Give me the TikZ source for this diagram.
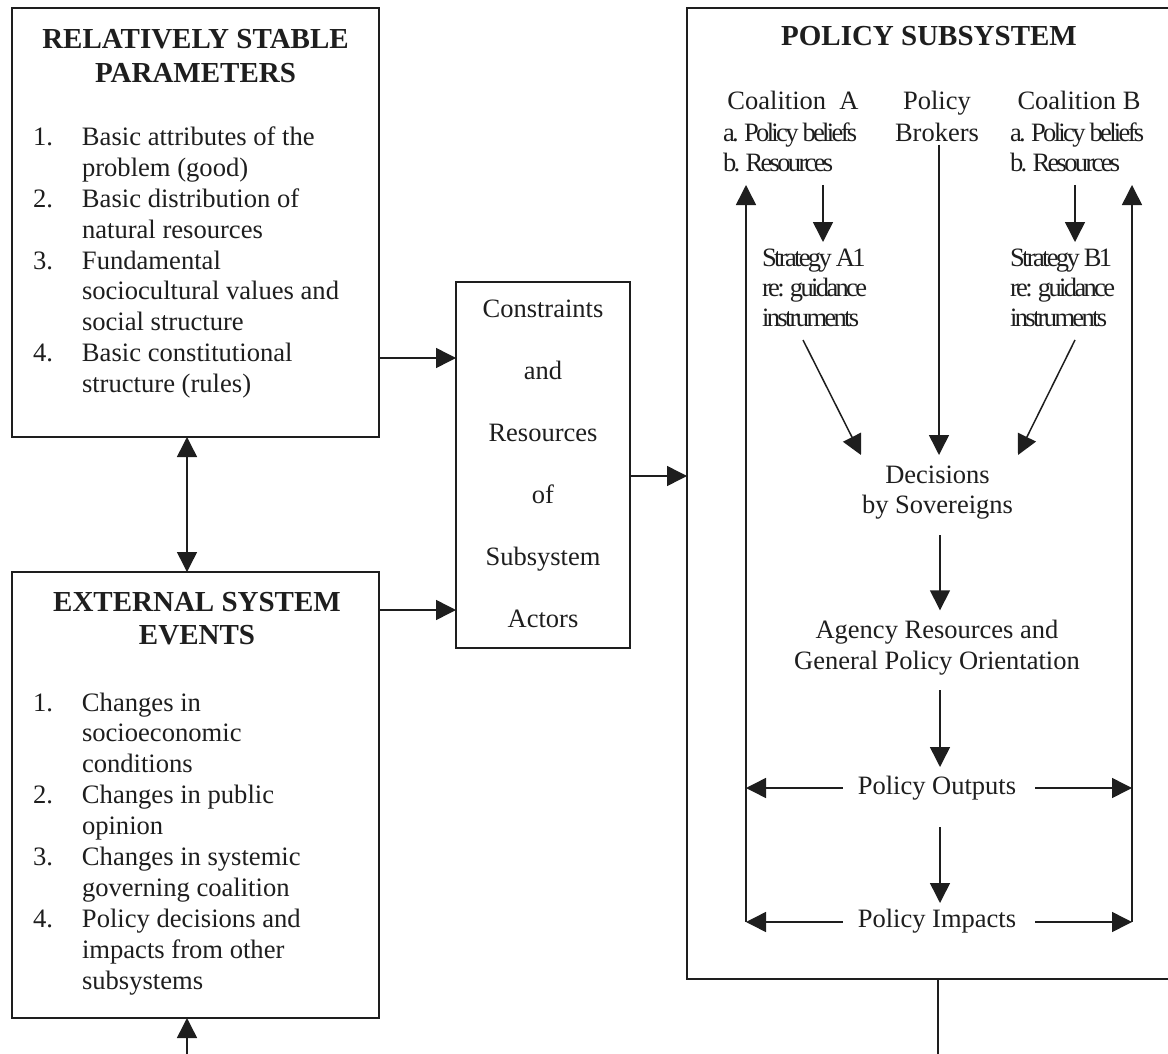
\documentclass[tikz,border=0pt]{standalone}
\usepackage{fontspec}
\setmainfont{Liberation Serif}
\newfontfamily\tightfont[LetterSpace=-10]{Liberation Serif}
\usetikzlibrary{arrows.meta,calc}
\definecolor{ink}{HTML}{1E1E1E}
% rows of text stacked at a fixed baseline distance
\newcommand{\rows}[2][c]{\begin{tabular}[t]{@{}#1@{}}#2\end{tabular}}
\begin{document}
\begin{tikzpicture}[x=1pt,y=-1pt,
  box/.style={draw=ink, line width=1.6pt, anchor=north west, inner sep=0pt, outer sep=0pt},
  txt/.style={inner sep=0pt, outer sep=0pt, text=ink, anchor=base, font={\fontsize{26.5}{30}\selectfont}},
  head/.style={txt, font={\fontsize{29}{34}\selectfont\bfseries}},
  tight/.style={txt, anchor=base west, font={\fontsize{26.5}{30}\selectfont\tightfont}},
  ln/.style={draw=ink, line width=1.5pt},
  arr/.style={ln, -{Triangle[length=20pt,width=20pt]}},
  arr2/.style={ln, {Triangle[length=20pt,width=20pt]}-{Triangle[length=20pt,width=20pt]}},
]
\useasboundingbox (0,0) rectangle (1168,1054);
\clip (0,0) rectangle (1168,1054);
\fill[white] (0,0) rectangle (1168,1054);

% ---------- frames ----------
\node[box, minimum width=367pt, minimum height=429pt] (rsp) at (12,8) {};
\node[box, minimum width=367pt, minimum height=446pt] (ese) at (12,572) {};
\node[box, minimum width=174pt, minimum height=366pt] (mid) at (456,282) {};
\node[box, line width=2.6pt, minimum width=500pt, minimum height=971pt] (pol) at (687,8) {};

% ---------- left column ----------
\node[head] (rspT) at (195.5,49) {\fontsize{29}{34}\selectfont\rows{RELATIVELY STABLE\\PARAMETERS}};
\node[txt, anchor=base west, font={\fontsize{26.6}{30.8}\selectfont}] (rspL) at (33,146) {\rows[p{49pt}@{}l]{%
  1. & Basic attributes of the\\
     & problem (good)\\
  2. & Basic distribution of\\
     & natural resources\\
  3. & Fundamental\\
     & sociocultural values and\\
     & social structure\\
  4. & Basic constitutional\\
     & structure (rules)}};

\node[head] (eseT) at (197,611) {\fontsize{29}{33}\selectfont\rows{EXTERNAL SYSTEM\\EVENTS}};
\node[txt, anchor=base west, font={\fontsize{26.6}{30.9}\selectfont}] (eseL) at (33,711) {\rows[p{49pt}@{}l]{%
  1. & Changes in\\
     & socioeconomic\\
     & conditions\\
  2. & Changes in public\\
     & opinion\\
  3. & Changes in systemic\\
     & governing coalition\\
  4. & Policy decisions and\\
     & impacts from other\\
     & subsystems}};

% ---------- middle box ----------
\node[txt, font={\fontsize{26.5}{62}\selectfont}] (midT) at (543,317) {\rows{Constraints\\and\\Resources\\of\\Subsystem\\Actors}};

% ---------- policy subsystem ----------
\node[head] (polT) at (929,46) {POLICY SUBSYSTEM};
\node[txt] (cAh) at (793,110) {Coalition\ \ A};
\node[tight] (cAi) at (723,142) {\rows[l]{a. Policy beliefs\\b. Resources}};
\node[txt, font={\fontsize{26.5}{32}\selectfont}] (brk) at (937,110) {\rows{Policy\\Brokers}};
\node[txt] (cBh) at (1079,110) {Coalition B};
\node[tight] (cBi) at (1010,142) {\rows[l]{a. Policy beliefs\\b. Resources}};
\node[tight] (sA) at (762,266) {\rows[l]{Strategy A1\\re: guidance\\instruments}};
\node[tight] (sB) at (1010,266) {\rows[l]{Strategy B1\\re: guidance\\instruments}};
\node[txt] (dec) at (937.5,483) {\rows{Decisions\\by Sovereigns}};
\node[txt, font={\fontsize{26.5}{31}\selectfont}] (agy) at (937,638) {\rows{Agency Resources and\\General Policy Orientation}};
\node[txt] (out) at (937,794) {\rows{Policy Outputs}};
\node[txt] (imp) at (937,927) {\rows{Policy Impacts}};

% ---------- connectors between the blocks ----------
\coordinate (h1) at (0,358);
\coordinate (h2) at (0,610);
\coordinate (h3) at (0,476);
\coordinate (v1) at (187,0);
\draw[arr] (rsp.east |- h1) -- (mid.west |- h1);
\draw[arr] (ese.east |- h2) -- (mid.west |- h2);
\draw[arr] (mid.east |- h3) -- (pol.west |- h3);
\draw[arr2] (rsp.south -| v1) -- (ese.north -| v1);

% ---------- connectors inside the subsystem ----------
\draw[arr] ($(cAi.south west)+(100,4)$) -- ($(sA.north west)+(61,-3)$);
\draw[arr] ($(cBi.south west)+(65,4)$) -- ($(sB.north west)+(65,-3)$);
\draw[arr] ($(brk.south)+(2,-7)$) -- ($(dec.north)+(1.5,-7)$);
\draw[arr] ($(sA.south west)+(41,5)$) -- ($(dec.north)+(-76.5,-7)$);
\draw[arr] ($(sB.south west)+(65,5)$) -- ($(dec.north)+(80.5,-7)$);
\draw[arr] ($(dec.south)+(2.5,13)$) -- ($(agy.north)+(3,-6)$);
\draw[arr] ($(agy.south)+(3,12)$) -- ($(out.north)+(3,-6)$);
\draw[arr] ($(out.south)+(3,24)$) -- ($(imp.north)+(3,-3)$);

% feedback to the coalitions
\coordinate (cL) at (746,0);
\coordinate (cR) at (1132,0);
\draw[arr] ($(out.west)+(-15,0)$) -- (out.west -| cL);
\draw[arr] ($(out.east)+(19,0)$) -- (out.east -| cR);
\draw[arr] ($(imp.west)+(-15,1)$) -- ($(imp.west -| cL)+(0,1)$);
\draw[arr] ($(imp.east)+(19,1)$) -- ($(imp.east -| cR)+(0,1)$);
\draw[arr] ($(imp.west -| cL)+(0,1)$) -- ($(cAi.south -| cL)+(0,4)$);
\draw[arr] ($(imp.east -| cR)+(0,1)$) -- ($(cBi.south -| cR)+(0,4)$);

% feedback loop leaving the page
\coordinate (fR) at (938,1054);
\coordinate (fL) at (187,1054);
\draw[ln] (pol.south -| fR) -- (fR);
\draw[arr] (fL) -- (ese.south -| fL);
\end{tikzpicture}
\end{document}
